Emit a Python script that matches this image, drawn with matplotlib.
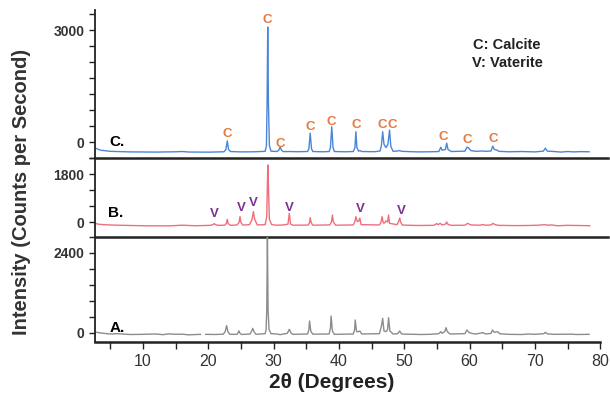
import numpy as np
import matplotlib
matplotlib.use("Agg")
import matplotlib.pyplot as plt
from matplotlib.ticker import MultipleLocator, FixedLocator

plt.rcParams['font.family'] = ['Liberation Sans', 'DejaVu Sans']

# ---------------- data (2theta in degrees, intensity in counts/s) ----
c_x = [2.65, 3.5, 5, 8, 12, 15, 16, 17, 20, 22.4, 22.7, 22.9, 23.1, 23.4, 25, 27, 28.7, 28.9,
       29.0, 29.1, 29.2, 29.35, 29.6, 30.5, 30.8, 31.0, 31.2, 31.5, 32.5, 33.5, 35.2, 35.4, 35.6,
       35.8, 36.0, 37.5, 38.5, 38.7, 38.9, 39.1, 39.3, 41, 42.2, 42.45, 42.6, 42.75, 43.0, 43.2,
       43.5, 45.5, 46.3, 46.5, 46.7, 46.9, 47.2, 47.5, 47.75, 47.95, 48.3, 49.0, 49.3, 49.6, 52,
       54, 55.3, 55.6, 55.8, 56.3, 56.5, 56.7, 57.2, 59.3, 59.6, 59.8, 60.2, 61.0, 62.0, 62.5,
       63.3, 63.55, 63.8, 64.2, 64.5, 66, 68, 70, 71.3, 71.6, 71.9, 73, 74, 75, 76, 77, 78.3]
c_y = [-160, -220, -250, -265, -270, -262, -255, -268, -272, -262, -200, 30, -200, -255, -265,
       -262, -250, -100, 1100, 3080, 1100, -100, -245, -255, -220, -130, -220, -258, -255, -260,
       -255, -180, 240, -180, -255, -262, -255, -150, 410, -150, -255, -262, -255, -150, 275,
       -150, -245, -230, -255, -260, -240, -100, 275, -60, -150, -60, 320, -120, -250, -240,
       -230, -250, -265, -262, -255, -140, -220, -200, -30, -200, -255, -245, -140, -150, -230,
       -250, -240, -250, -240, -110, -200, -215, -250, -262, -255, -265, -245, -165, -245, -255,
       -270, -255, -265, -258, -262]

b_x = [2.65, 3.1, 4, 6, 10, 14, 16, 18, 20.3, 20.7, 20.9, 21.1, 21.5, 22.5, 22.75, 22.9, 23.05,
       23.4, 24.4, 24.7, 24.85, 25.0, 25.3, 26.3, 26.7, 26.9, 27.1, 27.5, 28.7, 28.95, 29.05,
       29.12, 29.2, 29.35, 29.7, 30.5, 31.5, 32.2, 32.4, 32.6, 33.0, 35.3, 35.5, 35.6, 35.75,
       36.0, 38.6, 38.85, 39.0, 39.15, 39.5, 42.2, 42.45, 42.6, 42.8, 43.05, 43.2, 43.4, 46.2,
       46.45, 46.6, 46.8, 47.05, 47.2, 47.45, 47.6, 47.75, 48.9, 49.2, 49.3, 49.45, 49.7, 52,
       54.5, 55.0, 55.2, 55.5, 55.8, 56.3, 56.5, 56.7, 57.2, 59.3, 59.7, 60.2, 61.5, 62.0, 62.5,
       63.3, 63.6, 63.9, 64.5, 67, 69, 70.5, 71.5, 72, 72.5, 73.5, 75, 76.5, 78.4]
b_y = [-40, -80, -100, -120, -140, -145, -120, -140, -125, -100, -60, -100, -125, -120, -60, 100,
       -60, -125, -110, -20, 200, -20, -115, -100, 100, 390, 100, -110, -100, 200, 1500, 2140,
       1400, 100, -100, -120, -110, -80, 325, -80, -120, -115, -20, 160, -20, -120, -110, 0, 260,
       0, -120, -110, 20, 200, 20, 40, 150, -100, -110, 0, 200, -40, -30, 40, 0, 260, -50, -100,
       50, 150, 0, -115, -130, -125, -60, -100, -50, -110, -80, 0, -90, -125, -120, -50, -110,
       -120, -100, -120, -110, -50, -100, -125, -135, -130, -120, -100, -120, -110, -140, -125,
       -130, -140]

a_x = [2.65, 3.5, 5, 6, 8, 10, 12, 13, 14, 15, 16, 17, 18.8, 19.2, 19.6, 21, 22.3, 22.6, 22.8,
       23.0, 23.3, 24.4, 24.6, 24.7, 24.85, 25.1, 26.4, 26.7, 26.8, 27.0, 27.3, 28.7, 28.85,
       28.95, 29.05, 29.15, 29.3, 29.6, 30.5, 31.0, 31.5, 32.1, 32.4, 32.7, 33.0, 35.2, 35.4,
       35.5, 35.7, 36.0, 38.5, 38.7, 38.8, 39.0, 39.3, 42.2, 42.4, 42.5, 42.7, 43.0, 43.2, 43.5,
       46.2, 46.5, 46.7, 46.9, 47.2, 47.45, 47.6, 47.8, 48.3, 49.0, 49.3, 49.6, 52.5, 54, 55.3,
       55.6, 55.8, 56.2, 56.4, 56.6, 57.0, 59.3, 59.6, 59.9, 60.5, 61, 62.0, 62.5, 63.3, 63.5,
       63.8, 64.3, 64.6, 66, 68, 69, 70, 71.4, 71.6, 71.9, 73, 75.5, 76.5, 78.3]
a_y = [30, 0, -30, -20, -45, -40, -30, -50, -25, -40, -35, -55, -40, np.nan, -40, -45, -35, 50,
       220, 40, -40, -40, 30, 60, -10, -45, -30, 80, 140, 40, -40, -20, 100, 690, 2880, 690, 100,
       -20, -30, -50, -30, -10, 110, -10, -40, -30, 100, 360, 50, -35, -30, 150, 510, 60, -40,
       -30, 100, 390, 40, 40, 60, -30, -20, 200, 440, 60, 40, 100, 460, 60, -30, -20, 60, -30,
       -45, -40, -20, 40, -10, 40, 160, 40, -30, -20, 90, 20, -20, -30, 10, -30, -10, 90, 20, 40,
       -20, -40, -45, -30, -40, -20, 20, -25, -40, -35, -45, -40]

calcite_label_x = [22.9, 29.1, 31.0, 35.6, 38.9, 42.6, 46.6, 48.1, 55.9, 59.7, 63.6]
calcite_label_y = [214, 3268, -54, 402, 536, 455, 455, 455, 134, 54, 80]
vaterite_label_x = [20.87, 25.0, 26.9, 32.4, 43.3, 49.5]
vaterite_label_y = [289, 537, 725, 537, 475, 412]

panel_names = ["C.", "B.", "A."]
top_ticks = [0, 3000]
mid_ticks = [0, 1800]
bot_ticks = [0, 2400]

# ---------------- figure ----------------
W, H = 610, 393
fig = plt.figure(figsize=(W / 100, H / 100), dpi=100)

def fr(x0, y0, x1, y1):
    return [x0 / W, 1 - y1 / H, (x1 - x0) / W, (y1 - y0) / H]

axC = fig.add_axes(fr(95, 10, 608, 158))
axB = fig.add_axes(fr(95, 158, 608, 237))
axA = fig.add_axes(fr(95, 237, 608, 342))

XL = (2.65, 81.2)
spine_c = '#222222'
for ax in (axC, axB, axA):
    ax.set_xlim(*XL)
    ax.spines['top'].set_visible(False)
    ax.spines['right'].set_visible(False)
    ax.spines['left'].set_linewidth(1.3)
    ax.spines['left'].set_color(spine_c)
    ax.spines['bottom'].set_linewidth(1.8)
    ax.spines['bottom'].set_color(spine_c)
    ax.tick_params(axis='y', which='both', direction='out', length=4.5, width=1.0,
                   color=spine_c, labelsize=10, labelcolor='#333333', pad=3)
    ax.patch.set_alpha(0)

axC.set_ylim(-3000 / 7, 3536)
axC.yaxis.set_major_locator(FixedLocator(top_ticks))
axC.yaxis.set_minor_locator(MultipleLocator(3000 / 7))

axB.set_ylim(-562, 2400)
axB.yaxis.set_major_locator(FixedLocator(mid_ticks))
axB.yaxis.set_minor_locator(MultipleLocator(600))

axA.set_ylim(-270, 2880)
axA.yaxis.set_major_locator(FixedLocator(bot_ticks))
axA.yaxis.set_minor_locator(MultipleLocator(480))

for ax, ticks in ((axC, top_ticks), (axB, mid_ticks), (axA, bot_ticks)):
    ax.set_yticklabels([str(t) for t in ticks], fontweight='bold')

for ax in (axC, axB):
    ax.tick_params(axis='x', which='both', bottom=False, labelbottom=False)

axA.xaxis.set_major_locator(MultipleLocator(10))
axA.xaxis.set_minor_locator(MultipleLocator(5))
axA.set_xticks([10, 20, 30, 40, 50, 60, 70, 80])
axA.tick_params(axis='x', which='both', direction='out', length=5, width=1.0, color=spine_c,
                labelsize=11.5, labelcolor='#333333', pad=4)
axA.spines['bottom'].set_bounds(XL[0], 80)

# traces
axC.plot(c_x, c_y, color='#4A86D8', lw=1.0)
axB.plot(b_x, b_y, color='#EE6F7C', lw=1.0)
axA.plot(a_x, a_y, color='#8C8C8C', lw=1.0)

# annotations
for x, y in zip(calcite_label_x, calcite_label_y):
    axC.text(x, y, "C", color='#E5793F', fontsize=9.5, fontweight='bold', ha='center', va='center')
for x, y in zip(vaterite_label_x, vaterite_label_y):
    axB.text(x, y, "V", color='#7B2F93', fontsize=9.5, fontweight='bold', ha='center', va='center')

fig.text(117 / W, 1 - 142 / H, panel_names[0], fontsize=11, fontweight='bold', ha='center', va='center')
fig.text(116 / W, 1 - 213 / H, panel_names[1], fontsize=11, fontweight='bold', ha='center', va='center')
fig.text(117 / W, 1 - 328 / H, panel_names[2], fontsize=11, fontweight='bold', ha='center', va='center')

fig.text(507 / W, 1 - 45 / H, "C: Calcite", fontsize=10.5, fontweight='bold', ha='center', va='center',
         color='#222222')
fig.text(507 / W, 1 - 63 / H, "V: Vaterite", fontsize=10.5, fontweight='bold', ha='center', va='center',
         color='#222222')

fig.text(332 / W, 1 - 383 / H, "2θ (Degrees)", fontsize=15, fontweight='bold', ha='center', va='center',
         color='#222222')
fig.text(22 / W, 1 - 192 / H, "Intensity (Counts per Second)", fontsize=14.5, fontweight='bold',
         ha='center', va='center', rotation=90, color='#333333')

fig.savefig("out.png", dpi=100)
